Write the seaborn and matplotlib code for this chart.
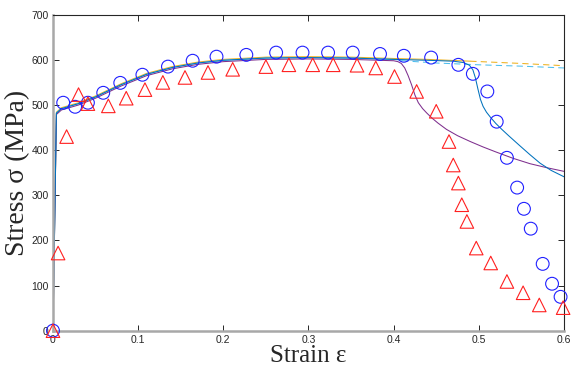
"""Stress-strain curves: simulations vs. test points"""
import pandas as pd
import numpy as np
import matplotlib
matplotlib.use("Agg")
import matplotlib.pyplot as plt
import seaborn as sns

# test points (circles)
circ_eps = [0, 0.012, 0.026, 0.041, 0.059, 0.079, 0.105, 0.135, 0.164, 0.192, 0.227,
            0.262, 0.293, 0.323, 0.352, 0.384, 0.412, 0.444, 0.476, 0.493, 0.510,
            0.521, 0.533, 0.545, 0.553, 0.561, 0.575, 0.586, 0.596]
circ_sig = [0, 505, 496, 505, 527, 549, 567, 585, 598, 607, 611,
            616, 616, 616, 616, 613, 609, 605, 589, 569, 530,
            463, 383, 317, 270, 226, 148, 104, 75]

# test points (triangles)
tri_eps = [0, 0.006, 0.016, 0.030, 0.041, 0.065, 0.086, 0.108, 0.129, 0.155, 0.182,
           0.211, 0.250, 0.277, 0.305, 0.329, 0.357, 0.379, 0.401, 0.427, 0.450,
           0.465, 0.470, 0.476, 0.480, 0.486, 0.497, 0.514, 0.533, 0.552, 0.571, 0.599]
tri_sig = [0, 172, 430, 523, 503, 498, 515, 534, 550, 561, 572,
           579, 585, 589, 589, 589, 588, 582, 563, 530, 486,
           419, 367, 327, 279, 242, 183, 150, 109, 84, 57, 51]

# shared hardening branch
base_eps = [0, 0.004, 0.01, 0.03, 0.05, 0.08, 0.11, 0.14, 0.17, 0.2, 0.25, 0.3, 0.35, 0.4]
base_sig = [0, 482, 492, 503, 518, 545, 568, 583, 593, 599, 604, 605, 604, 601]

# purple: early softening
purple_eps = base_eps + [0.405, 0.409, 0.413, 0.417, 0.421, 0.425, 0.429, 0.434, 0.439,
                         0.445, 0.452, 0.462, 0.475, 0.49, 0.505, 0.52, 0.54, 0.56, 0.58, 0.6]
purple_sig = [s - 3 for s in base_sig] + [596, 592, 582, 565, 545, 522, 505, 492, 482,
                                          471, 460, 446, 432, 419, 407, 396, 382, 370, 361, 353]

# blue: late softening
blue_eps = base_eps + [0.44, 0.47, 0.482, 0.489, 0.493, 0.496, 0.499, 0.502, 0.505, 0.509,
                       0.514, 0.52, 0.527, 0.535, 0.548, 0.56, 0.572, 0.585, 0.6]
blue_sig = base_sig + [599, 597, 594, 588, 578, 560, 535, 512, 497, 484,
                       472, 459, 446, 432, 410, 390, 371, 355, 341]

# yellow: no softening (solid, then dashed)
yel_eps = base_eps + [0.44, 0.49]
yel_sig = [s + 2 for s in base_sig] + [601, 597]
yel_dash_eps = [0.49, 0.55, 0.6]
yel_dash_sig = [597, 592, 587]

# light blue: no softening (solid, then dashed)
lb_eps = base_eps + [0.41]
lb_sig = base_sig + [599]
lb_dash_eps = [0.41, 0.45, 0.5, 0.55, 0.6]
lb_dash_sig = [598, 593, 589, 586, 582]

sns.set_style("white")
plt.rcParams["font.family"] = ["Liberation Sans", "DejaVu Sans"]

fig = plt.figure(figsize=(5.81, 3.74), dpi=100)
ax = fig.add_axes([0.0912, 0.1158, 0.8795, 0.8449])

lw = 0.75
dash = (0, (6, 4))
sns.lineplot(x=yel_eps, y=yel_sig, color="#EDB120", lw=lw, ax=ax, sort=False)
sns.lineplot(x=yel_dash_eps, y=yel_dash_sig, color="#EDB120", lw=lw, ls=dash, ax=ax, sort=False)
sns.lineplot(x=lb_eps, y=lb_sig, color="#4DBEEE", lw=lw, ax=ax, sort=False)
sns.lineplot(x=lb_dash_eps, y=lb_dash_sig, color="#4DBEEE", lw=lw, ls=dash, ax=ax, sort=False)
sns.lineplot(x=purple_eps, y=purple_sig, color="#7E2F8E", lw=lw, ax=ax, sort=False)
sns.lineplot(x=blue_eps, y=blue_sig, color="#0072BD", lw=lw, ax=ax, sort=False)

sns.scatterplot(x=circ_eps, y=circ_sig, marker="o", s=85, facecolor="none",
                edgecolor="#2020ff", linewidth=0.8, ax=ax, zorder=5, clip_on=False)
sns.scatterplot(x=tri_eps, y=tri_sig, marker="^", s=95, facecolor="none",
                edgecolor="#ff2020", linewidth=0.8, ax=ax, zorder=5, clip_on=False)

ax.set_xlim(0, 0.6)
ax.set_ylim(0, 700)
ax.set_xticks([0, 0.1, 0.2, 0.3, 0.4, 0.5, 0.6])
ax.set_xticklabels(["0", "0.1", "0.2", "0.3", "0.4", "0.5", "0.6"])
ax.set_yticks(range(0, 701, 100))
ax.tick_params(direction="in", bottom=True, left=True, top=True, right=True,
               length=4, width=0.7, labelsize=7.5, labelcolor="#262626",
               color="#262626", pad=3)

for side in ["top", "right"]:
    ax.spines[side].set_color("#262626")
    ax.spines[side].set_linewidth(0.8)
for side in ["left", "bottom"]:
    ax.spines[side].set_color("#a8a8a8")
    ax.spines[side].set_linewidth(1.8)

ax.set_xlabel("Strain ε", family=["Liberation Serif", "DejaVu Serif"], fontsize=18, labelpad=0)
ax.set_ylabel("Stress σ (MPa)", family=["Liberation Serif", "DejaVu Serif"], fontsize=20, labelpad=1)

fig.savefig("out.png", dpi=100)
